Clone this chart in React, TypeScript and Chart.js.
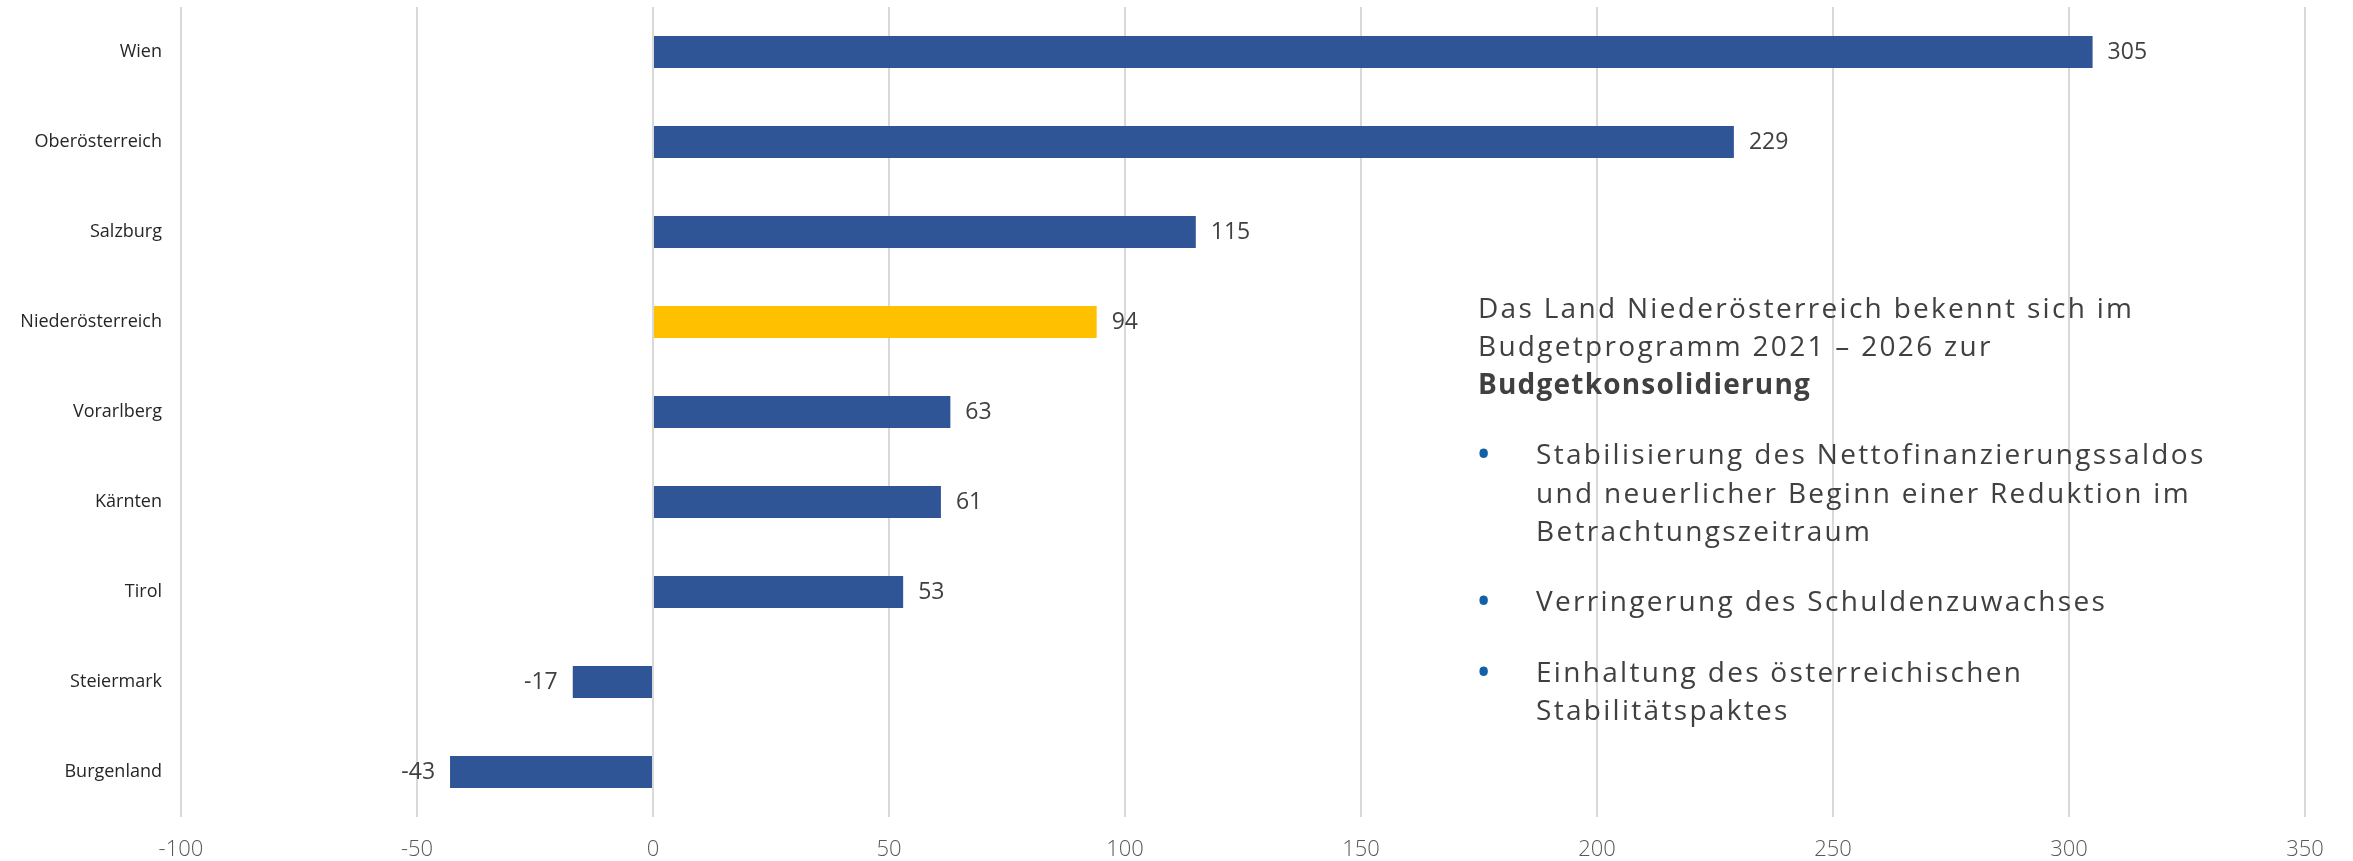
import React, { useEffect, useRef } from "react";
import { Chart, registerables } from "chart.js";

Chart.register(...registerables);

const categories = [
  "Wien",
  "Oberösterreich",
  "Salzburg",
  "Niederösterreich",
  "Vorarlberg",
  "Kärnten",
  "Tirol",
  "Steiermark",
  "Burgenland",
];
const values = [305, 229, 115, 94, 63, 61, 53, -17, -43];
const xTickValues = [-100, -50, 0, 50, 100, 150, 200, 250, 300, 350];
const highlightCategory = "Niederösterreich";

const headerLines = ["Das Land Niederösterreich bekennt sich im", "Budgetprogramm 2021 – 2026 zur"];
const headerBold = "Budgetkonsolidierung";
const bulletItems = [
  ["Stabilisierung des Nettofinanzierungssaldos", "und neuerlicher Beginn einer Reduktion im", "Betrachtungszeitraum"],
  ["Verringerung des Schuldenzuwachses"],
  ["Einhaltung des österreichischen", "Stabilitätspaktes"],
];

const FONT = "'Open Sans', Lato, 'DejaVu Sans', sans-serif";
const BLUE = "#2f5597";
const YELLOW = "#ffc000";

const valueLabelPlugin = {
  id: "valueLabels",
  afterDatasetsDraw(chart: any) {
    const ctx = chart.ctx;
    const meta = chart.getDatasetMeta(0);
    const data = chart.data.datasets[0].data as number[];
    ctx.save();
    ctx.font = `23px ${FONT}`;
    ctx.fillStyle = "#404040";
    ctx.textBaseline = "middle";
    meta.data.forEach((bar: any, i: number) => {
      const v = data[i];
      const { x, y } = bar.getProps(["x", "y"], true);
      if (v >= 0) {
        ctx.textAlign = "left";
        ctx.fillText(String(v), x + 15, y);
      } else {
        ctx.textAlign = "right";
        ctx.fillText(String(v), x - 15, y);
      }
    });
    ctx.restore();
  },
};

export default function App() {
  const canvasRef = useRef<HTMLCanvasElement | null>(null);

  useEffect(() => {
    if (!canvasRef.current) return;
    const chart = new Chart(canvasRef.current, {
      type: "bar",
      data: {
        labels: categories,
        datasets: [
          {
            data: values,
            backgroundColor: categories.map((c) => (c === highlightCategory ? YELLOW : BLUE)),
            borderWidth: 0,
            barPercentage: 0.356,
            categoryPercentage: 1,
          },
        ],
      },
      options: {
        indexAxis: "y",
        responsive: false,
        animation: false,
        maintainAspectRatio: false,
        layout: { padding: { left: 0, right: 48, top: 7, bottom: 0 } },
        plugins: {
          legend: { display: false },
          tooltip: { enabled: false },
        },
        scales: {
          x: {
            min: xTickValues[0],
            max: xTickValues[xTickValues.length - 1],
            afterBuildTicks: (scale: any) => {
              scale.ticks = xTickValues.map((v) => ({ value: v }));
            },
            ticks: {
              color: "#595959",
              font: { family: FONT, size: 22, weight: 300 },
              padding: 20,
            },
            grid: { color: "#d9d9d9", lineWidth: 2, drawTicks: false },
            border: { display: false },
            afterFit: (scale: any) => {
              scale.height = 44;
              scale.paddingLeft = 0;
              scale.paddingRight = 0;
            },
          },
          y: {
            ticks: {
              color: "#262626",
              font: { family: FONT, size: 18 },
              padding: 19,
            },
            grid: { display: false, drawTicks: false },
            border: { display: false },
            afterFit: (scale: any) => {
              scale.width = 181;
              scale.paddingTop = 0;
              scale.paddingBottom = 0;
            },
          },
        },
      },
      plugins: [valueLabelPlugin],
    } as any);
    return () => chart.destroy();
  }, []);

  return (
    <div style={{ position: "absolute", left: 0, top: 0, width: 2353, height: 861, background: "#fff", overflow: "hidden" }}>
      <canvas ref={canvasRef} width={2353} height={861} style={{ position: "absolute", left: 0, top: 0, width: 2353, height: 861 }} />
      <div
        style={{
          position: "absolute",
          left: 1478,
          top: 287.5,
          fontFamily: FONT,
          fontSize: 28,
          fontWeight: 400,
          letterSpacing: "2.3px",
          lineHeight: "38.3px",
          color: "#404040",
          whiteSpace: "nowrap",
        }}
      >
        <div>
          {headerLines.map((l, i) => (
            <div key={i}>{l}</div>
          ))}
          <div style={{ fontWeight: 700, letterSpacing: "1.2px" }}>{headerBold}</div>
        </div>
        {bulletItems.map((item, i) => (
          <div key={i} style={{ display: "flex", marginTop: 32 }}>
            <div style={{ width: 58, color: "#1160a8", fontSize: 30, fontWeight: 700, letterSpacing: 0, lineHeight: "38.3px" }}>•</div>
            <div>
              {item.map((l, j) => (
                <div key={j}>{l}</div>
              ))}
            </div>
          </div>
        ))}
      </div>
    </div>
  );
}
